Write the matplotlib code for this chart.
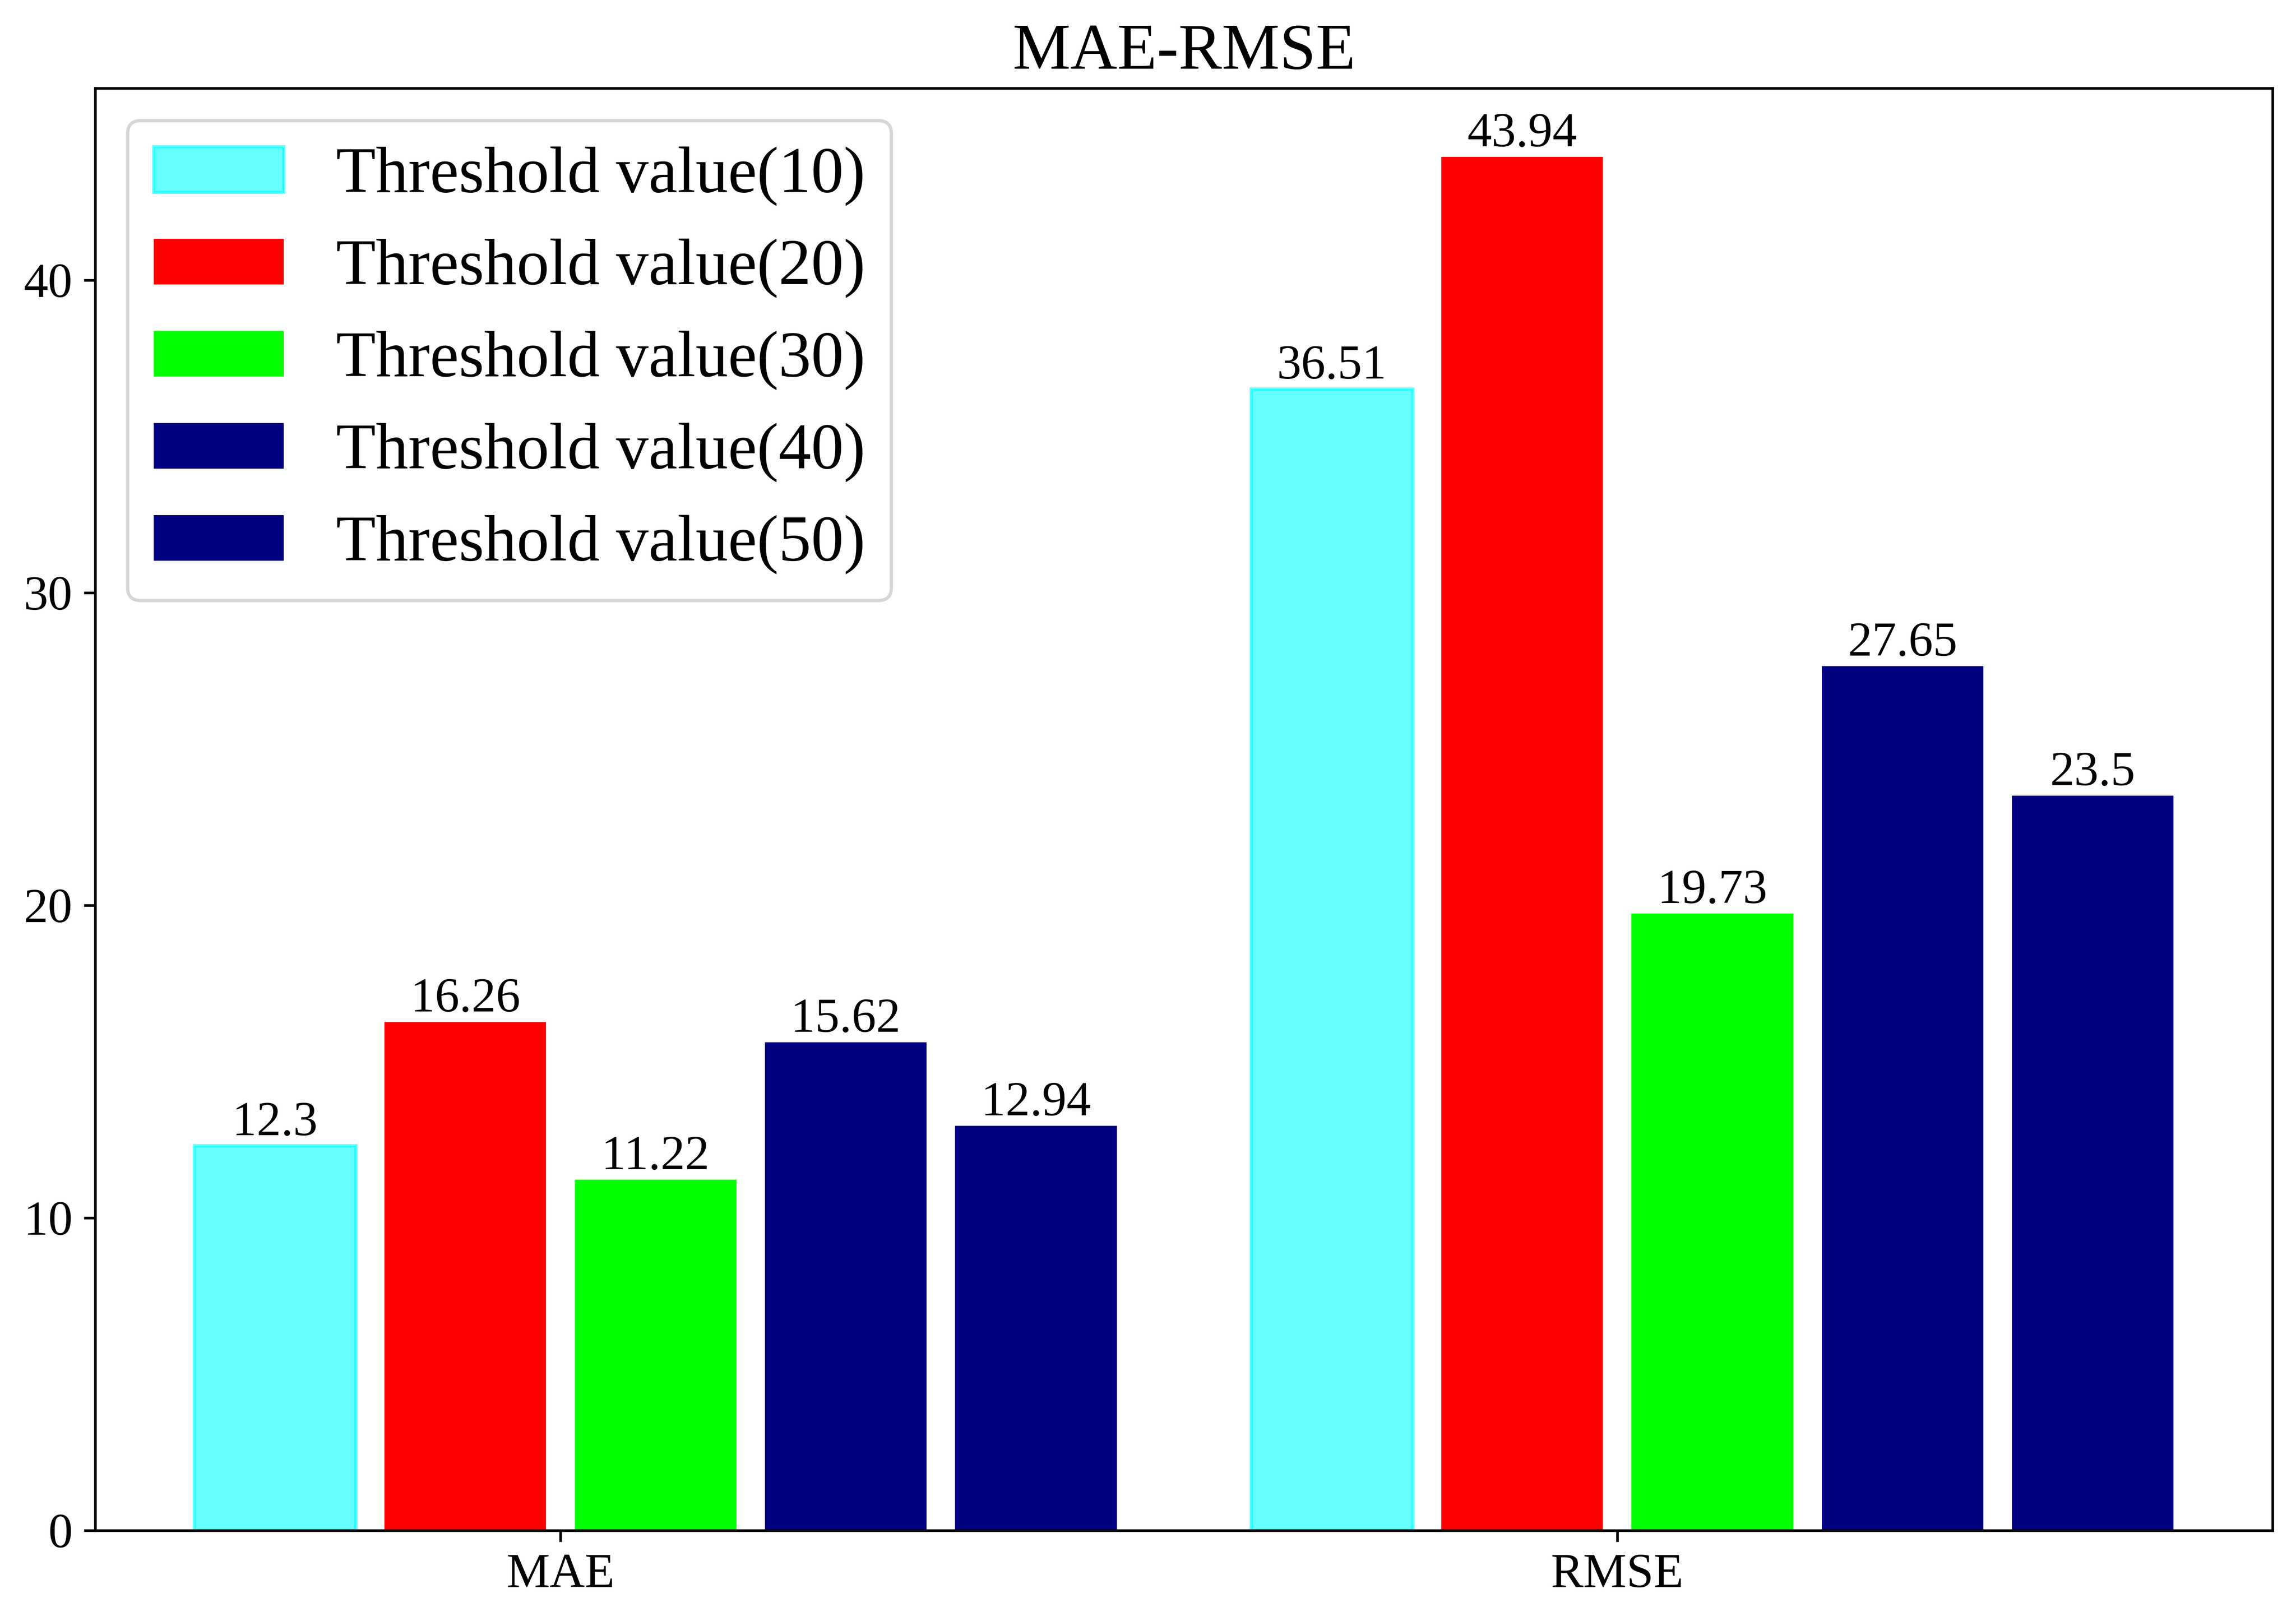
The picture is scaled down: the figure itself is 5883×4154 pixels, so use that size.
import numpy as np
import matplotlib.pyplot as plt

plt.rcParams['font.family'] = ['Liberation Serif', 'DejaVu Serif']

# data
metrics = ['MAE', 'RMSE']
labels = ['Threshold value(10)', 'Threshold value(20)', 'Threshold value(30)',
          'Threshold value(40)', 'Threshold value(50)']
t10 = [12.3, 36.51]
t20 = [16.26, 43.94]
t30 = [11.22, 19.73]
t40 = [15.62, 27.65]
t50 = [12.94, 23.5]
series = [t10, t20, t30, t40, t50]
colors = ['cyan', 'red', 'lime', 'navy', 'navy']

x = np.arange(len(metrics))
step = 0.18
width = 0.153

fig, ax = plt.subplots(figsize=(5883 / 600, 4154 / 600))

for i, (vals, lab, c) in enumerate(zip(series, labels, colors)):
    pos = x + (i - 1.5) * step
    if i == 0:
        bars = ax.bar(pos, vals, width, color=c, alpha=0.6, edgecolor=c, label=lab)
    else:
        bars = ax.bar(pos, vals, width, color=c, label=lab)
    # value on top of each bar
    for b, v in zip(bars, vals):
        ax.text(b.get_x() + b.get_width() / 2, v, str(v), ha='center', va='bottom', fontsize=15)

ax.set_xticks(x)
ax.set_xticklabels(metrics)
ax.tick_params(labelsize=15)
ax.set_title('MAE-RMSE', fontsize=20)
ax.legend(loc='upper left', fontsize=20)

fig.subplots_adjust(left=0.0415, right=0.9898, top=0.9456, bottom=0.0559)
plt.savefig('out.png', dpi=600)
